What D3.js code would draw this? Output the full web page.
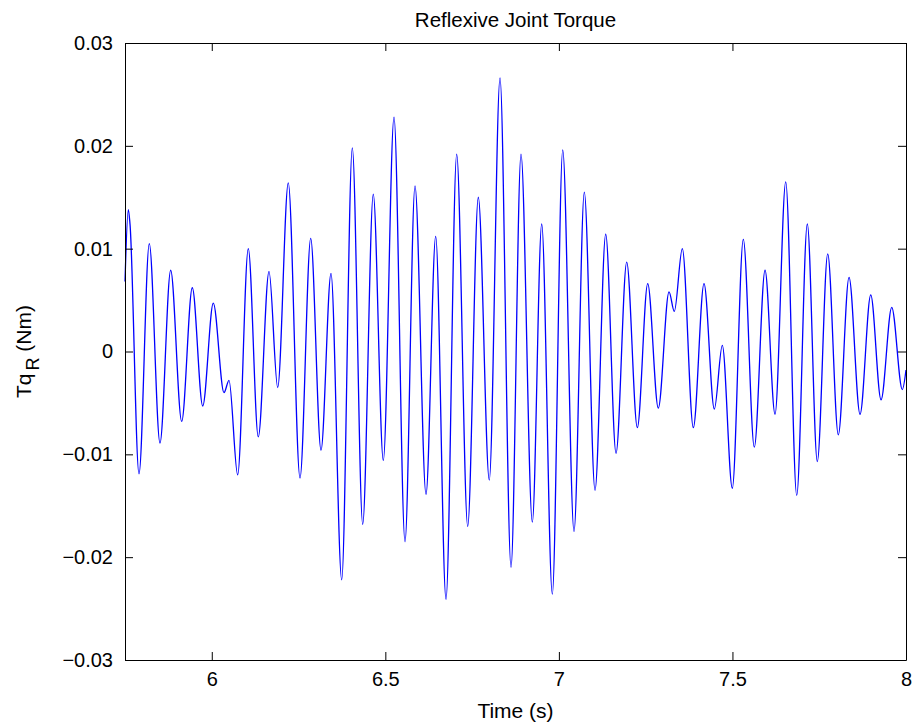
<!DOCTYPE html>
<html>
<head>
<meta charset="utf-8">
<title>Reflexive Joint Torque</title>
<script src="https://cdn.jsdelivr.net/npm/d3@7"></script>
<style>
  body { margin: 0; background: #fff; }
  svg text { font-family: "Liberation Sans", Arial, Helvetica, sans-serif; fill: #000; }
</style>
</head>
<body>
<svg id="chart" width="912" height="725"></svg>
<script>
// peaks, troughs and shoulders (time in s, torque in Nm)
var timeS = [
  5.750, 5.7595, 5.7644, 5.7903, 5.8200, 5.8508, 5.8816, 5.9133, 5.9439, 5.9739,
  6.0044, 6.0352, 6.0496, 6.0746, 6.1052, 6.1340, 6.1649, 6.1899, 6.2204, 6.2542,
  6.2850, 6.3147, 6.3435, 6.3743, 6.4049, 6.4348, 6.4653, 6.4942, 6.5250, 6.5567,
  6.5855, 6.6172, 6.6451, 6.6748, 6.7056, 6.7373, 6.7679, 6.7995, 6.8304, 6.8621,
  6.8909, 6.9235, 6.9505, 6.9811, 7.0111, 7.0436, 7.0733, 7.1041, 7.1349, 7.1646,
  7.1954, 7.2260, 7.2559, 7.2864, 7.3173, 7.3325, 7.3556, 7.3873, 7.4181, 7.4478,
  7.4708, 7.4996, 7.5313, 7.5630, 7.5939, 7.6227, 7.6535, 7.6852, 7.7157, 7.7445,
  7.7745, 7.8050, 7.8359, 7.8676, 7.8984, 7.9281, 7.9589, 7.9894, 8.000
];
var torqueNm = [
  0.0068, 0.0138, 0.0124, -0.0119, 0.0105, -0.0089, 0.0079, -0.0068, 0.0062, -0.0053,
  0.0047, -0.0040, -0.0028, -0.0120, 0.0100, -0.0083, 0.0078, -0.0035, 0.0164, -0.0123,
  0.0110, -0.0096, 0.0076, -0.0222, 0.0198, -0.0168, 0.0153, -0.0106, 0.0228, -0.0185,
  0.0161, -0.0139, 0.0112, -0.0241, 0.0192, -0.0170, 0.0150, -0.0125, 0.0266, -0.0210,
  0.0192, -0.0166, 0.0124, -0.0236, 0.0196, -0.0175, 0.0155, -0.0135, 0.0114, -0.0099,
  0.0087, -0.0074, 0.0066, -0.0055, 0.0058, 0.0039, 0.0100, -0.0074, 0.0066, -0.0056,
  0.0006, -0.0133, 0.0109, -0.0093, 0.0079, -0.0061, 0.0165, -0.0140, 0.0124, -0.0107,
  0.0095, -0.0081, 0.0072, -0.0061, 0.0055, -0.0047, 0.0043, -0.0037, -0.0018
];
var xTicks = [6, 6.5, 7, 7.5, 8];
var yTicks = [-0.03, -0.02, -0.01, 0, 0.01, 0.02, 0.03];

var svg = d3.select("#chart");
var margin = { left: 125, right: 6, top: 43, bottom: 65 };
var width = 912 - margin.left - margin.right;
var height = 725 - margin.top - margin.bottom;
var tickLen = 8;
var fontSize = 20;

var x = d3.scaleLinear().domain([5.75, 8]).range([0, width]);
var y = d3.scaleLinear().domain([-0.03, 0.03]).range([height, 0]);

var g = svg.append("g").attr("transform", "translate(" + margin.left + "," + margin.top + ")");

var points = timeS.map(function (t, i) { return [t, torqueNm[i]]; });

var line = d3.line()
  .x(function (d) { return x(d[0]); })
  .y(function (d) { return y(d[1]); })
  .curve(d3.curveMonotoneX);

g.append("path")
  .datum(points)
  .attr("d", line)
  .attr("fill", "none")
  .attr("stroke", "#0000ff")
  .attr("stroke-width", 1.3);

function yFmt(d) { return d === 0 ? "0" : d3.format(".2f")(d); }
function xFmt(d) { return d3.format("")(d); }

// box with inward ticks on all four sides
var xb = g.append("g").attr("transform", "translate(0," + height + ")")
  .call(d3.axisBottom(x).tickValues(xTicks).tickFormat(xFmt).tickSizeInner(-tickLen).tickSizeOuter(0).tickPadding(12));
var xt = g.append("g")
  .call(d3.axisTop(x).tickValues(xTicks).tickFormat("").tickSizeInner(-tickLen).tickSizeOuter(0));
var yl = g.append("g")
  .call(d3.axisLeft(y).tickValues(yTicks).tickFormat(yFmt).tickSizeInner(-tickLen).tickSizeOuter(0).tickPadding(12));
var yr = g.append("g").attr("transform", "translate(" + width + ",0)")
  .call(d3.axisRight(y).tickValues(yTicks).tickFormat("").tickSizeInner(-tickLen).tickSizeOuter(0));

[xb, xt, yl, yr].forEach(function (a) {
  a.selectAll("path.domain").attr("stroke", "#000").attr("stroke-width", 1);
  a.selectAll(".tick line").attr("stroke", "#000").attr("stroke-width", 1);
  a.selectAll(".tick text").attr("font-size", fontSize).attr("font-family", null);
});

// title and axis labels
svg.append("text")
  .attr("x", margin.left + width / 2).attr("y", 27)
  .attr("text-anchor", "middle").attr("font-size", 20.5)
  .text("Reflexive Joint Torque");

svg.append("text")
  .attr("x", margin.left + width / 2).attr("y", 718)
  .attr("text-anchor", "middle").attr("font-size", 21)
  .text("Time (s)");

var ylab = svg.append("text")
  .attr("transform", "translate(31," + (margin.top + height / 2) + ") rotate(-90)")
  .attr("text-anchor", "middle").attr("font-size", 21);
ylab.append("tspan").text("Tq");
ylab.append("tspan").attr("dy", 8).attr("dx", 3).attr("font-size", 18).text("R");
ylab.append("tspan").attr("dy", -8).text(" (Nm)");
</script>
</body>
</html>
